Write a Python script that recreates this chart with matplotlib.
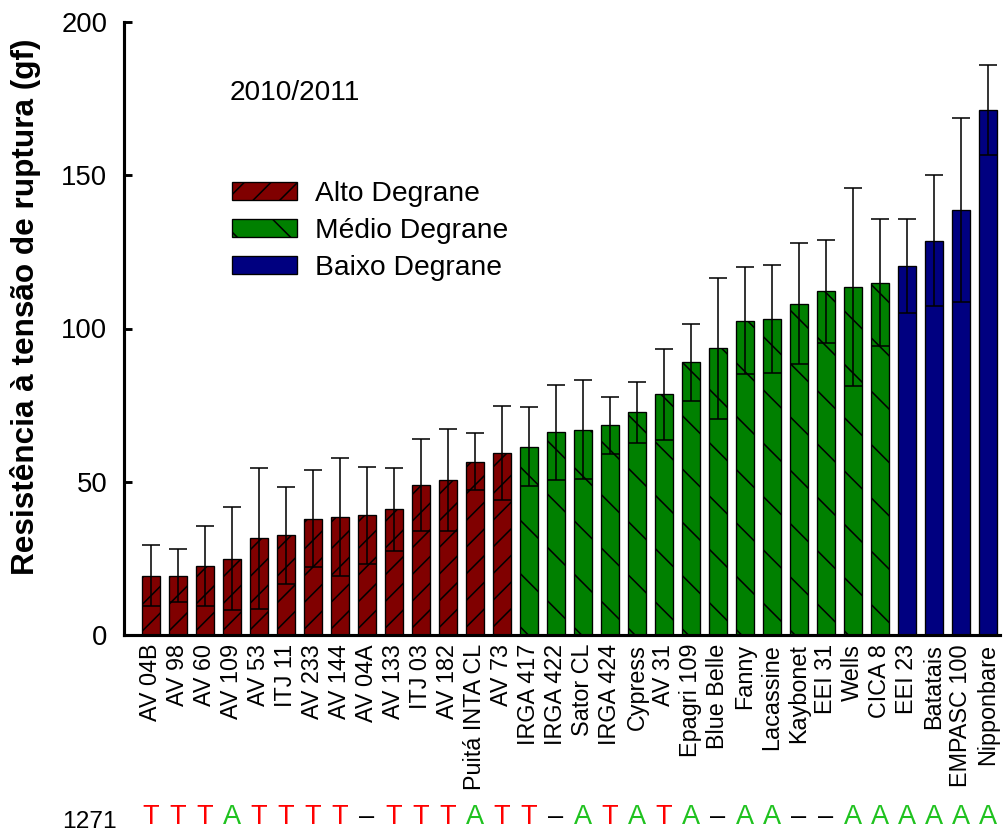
import numpy as np
import matplotlib.pyplot as plt
from matplotlib.patches import Patch
from matplotlib.transforms import blended_transform_factory

# Cultivars ordered by breaking strength
cultivars = ['AV 04B', 'AV 98', 'AV 60', 'AV 109', 'AV 53', 'ITJ 11', 'AV 233',
             'AV 144', 'AV 04A', 'AV 133', 'ITJ 03', 'AV 182', 'Puitá INTA CL',
             'AV 73', 'IRGA 417', 'IRGA 422', 'Sator CL', 'IRGA 424', 'Cypress',
             'AV 31', 'Epagri 109', 'Blue Belle', 'Fanny', 'Lacassine', 'Kaybonet',
             'EEI 31', 'Wells', 'CICA 8', 'EEI 23', 'Batatais', 'EMPASC 100',
             'Nipponbare']
means = [19.4, 19.4, 22.4, 24.9, 31.5, 32.5, 38.0, 38.6, 39.0, 41.0, 49.0, 50.6,
         56.5, 59.4, 61.5, 66.1, 67.0, 68.5, 72.6, 78.5, 89.0, 93.5, 102.5, 103.1,
         108.1, 112.1, 113.5, 115.0, 120.4, 128.6, 138.6, 171.3]
errors = [9.9, 8.7, 13.0, 16.8, 23.0, 15.8, 15.9, 19.2, 15.8, 13.5, 15.0, 16.7,
          9.3, 15.4, 12.9, 15.5, 16.2, 9.3, 9.8, 14.8, 12.5, 23.0, 17.5, 17.6,
          19.7, 16.8, 32.2, 20.7, 15.3, 21.4, 30.1, 14.8]

# Shattering groups
group_labels = ['Alto Degrane', 'Médio Degrane', 'Baixo Degrane']
group_counts = [14, 14, 4]
group_colors = ['#800000', '#008000', '#000080']
group_hatches = ['//', '\\', '']

# SNP at position 1271
snp_pos = '1271'
snp_alleles = list('TTTATTTT-TTTATT-ATATA-AA--AAAAAA')
allele_colors = {'T': '#ff0000', 'A': '#1fc21f', '-': 'black'}

DPI = 160
plt.rcParams['font.family'] = ['Liberation Sans', 'DejaVu Sans']
plt.rcParams['hatch.linewidth'] = 0.7

fig = plt.figure(figsize=(1007 / DPI, 832 / DPI), dpi=DPI)
ax = fig.add_axes([124 / 1007, 1 - 635 / 832, (1000 - 124) / 1007, (635 - 22) / 832])

x = np.arange(len(cultivars))
colors = []
hatches = []
for c, h, n in zip(group_colors, group_hatches, group_counts):
    colors += [c] * n
    hatches += [h] * n

ax.bar(x, means, width=0.65, color=colors, hatch=hatches,
       edgecolor='black', linewidth=0.6, zorder=2)
ax.errorbar(x, means, yerr=errors, fmt='none', ecolor='black',
            elinewidth=0.7, capsize=3.9, capthick=0.7, zorder=3)

ax.set_xlim(-1, 31.45)
ax.set_ylim(0, 200)
ax.set_yticks([0, 50, 100, 150, 200])
ax.set_xticks(x)
ax.set_xticklabels(cultivars, rotation=90, fontsize=10.5)
ax.tick_params(axis='x', length=0, pad=4)
ax.tick_params(axis='y', direction='in', length=3.6, width=1.3, pad=7.5, labelsize=12.4)

for s in ['top', 'right']:
    ax.spines[s].set_visible(False)
for s in ['left', 'bottom']:
    ax.spines[s].set_linewidth(1.4)

fig.text(26 / 1007, 1 - 307 / 832, 'Resistência à tensão de ruptura (gf)',
         rotation=90, ha='center', va='center', fontsize=14.2, fontweight='bold')

fig.text(230 / 1007, 1 - 93 / 832, '2010/2011', ha='left', va='center', fontsize=12.6)

handles = [Patch(facecolor=c, hatch=h, edgecolor='black', linewidth=0.6, label=l)
           for c, h, l in zip(group_colors, group_hatches, group_labels)]
ax.legend(handles=handles, loc='upper left', frameon=False, fontsize=12.7,
          bbox_to_anchor=(232 / 1007, 1 - 181 / 832), bbox_transform=fig.transFigure,
          borderpad=0, borderaxespad=0, handlelength=2.3, handleheight=0.6,
          handletextpad=0.65, labelspacing=0.39)

# SNP row under the cultivar names
trans = blended_transform_factory(ax.transData, fig.transFigure)
fig.text(117 / 1007, 1 - 828 / 832, snp_pos, ha='right', va='baseline',
         fontsize=11)
for i, a in enumerate(snp_alleles):
    ax.text(x[i], 1 - 824 / 832, '–' if a == '-' else a, transform=trans,
            ha='center', va='baseline', fontsize=12.2, color=allele_colors[a],
            clip_on=False)

fig.savefig('out.png', dpi=DPI)
